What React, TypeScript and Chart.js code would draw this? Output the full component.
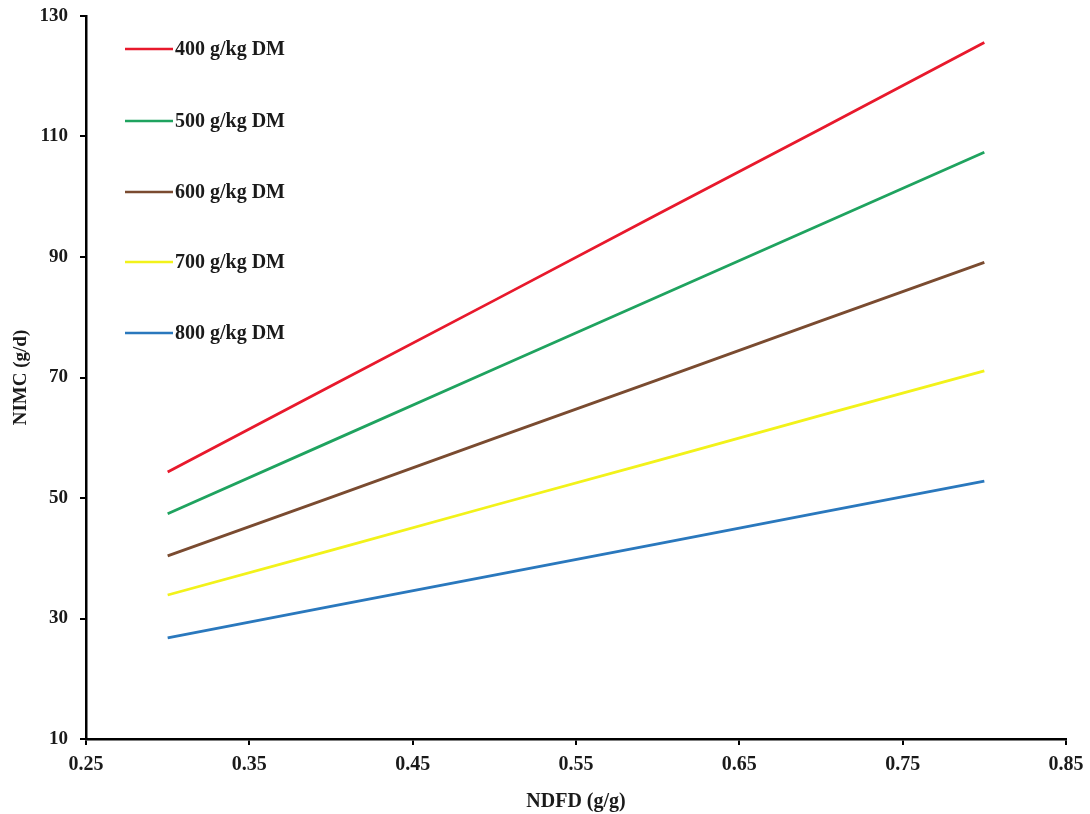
import React, { useEffect, useRef } from "react";
import { Chart, registerables } from "chart.js";

Chart.register(...registerables);

const xValues = [0.3, 0.4, 0.5, 0.6, 0.7, 0.8];
const s400 = [54.3, 68.6, 82.8, 97.1, 111.3, 125.6];
const s500 = [47.4, 59.4, 71.4, 83.4, 95.4, 107.4];
const s600 = [40.4, 50.1, 59.9, 69.6, 79.4, 89.1];
const s700 = [33.9, 41.3, 48.8, 56.2, 63.7, 71.1];
const s800 = [26.8, 32.0, 37.2, 42.4, 47.6, 52.8];
const seriesLabels = ["400 g/kg DM", "500 g/kg DM", "600 g/kg DM", "700 g/kg DM", "800 g/kg DM"];
const seriesColors = ["#e8192c", "#1fa35f", "#7a4b30", "#f2f21a", "#2a78bd"];
const xTicks = [0.25, 0.35, 0.45, 0.55, 0.65, 0.75, 0.85];
const yTicks = [10, 30, 50, 70, 90, 110, 130];

const FONT = "'Liberation Serif', 'Times New Roman', serif";

const legendPlugin = {
  id: "customLegend",
  afterDraw(chart: any) {
    const ctx = chart.ctx;
    const rows = [49, 121, 192, 262, 333];
    ctx.save();
    chart.data.datasets.forEach((ds: any, i: number) => {
      const y = rows[i];
      ctx.strokeStyle = ds.borderColor;
      ctx.lineWidth = 2.5;
      ctx.beginPath();
      ctx.moveTo(125, y);
      ctx.lineTo(173, y);
      ctx.stroke();
      ctx.fillStyle = "#1a1a1a";
      ctx.font = `bold 20px ${FONT}`;
      ctx.textAlign = "left";
      ctx.textBaseline = "middle";
      ctx.fillText(ds.label, 175, y + 1);
    });
    ctx.restore();
  },
};

export default function App() {
  const ref = useRef<HTMLCanvasElement | null>(null);
  useEffect(() => {
    if (!ref.current) return;
    const all = [s400, s500, s600, s700, s800];
    const chart = new Chart(ref.current, {
      type: "line",
      data: {
        datasets: all.map((s, i) => ({
          label: seriesLabels[i],
          data: s.map((v, j) => ({ x: xValues[j], y: v })),
          borderColor: seriesColors[i],
          backgroundColor: seriesColors[i],
          borderWidth: 2.8,
          pointRadius: 0,
          tension: 0,
          fill: false,
        })),
      },
      options: {
        animation: false,
        responsive: true,
        maintainAspectRatio: false,
        layout: { padding: { top: 16, right: 24, left: 0, bottom: 0 } },
        plugins: { legend: { display: false }, tooltip: { enabled: false } },
        scales: {
          x: {
            type: "linear",
            min: 0.25,
            max: 0.85,
            afterBuildTicks: (scale: any) => {
              scale.ticks = xTicks.map((v) => ({ value: v }));
            },
            afterFit: (scale: any) => {
              scale.height = 75;
              scale.paddingLeft = 0;
              scale.paddingRight = 0;
            },
            grid: {
              display: true,
              drawOnChartArea: false,
              drawTicks: true,
              tickLength: 6,
              color: "#000",
              lineWidth: 2,
            },
            border: { display: true, color: "#000", width: 2.5 },
            ticks: {
              color: "#1a1a1a",
              padding: 8,
              maxRotation: 0,
              font: { family: FONT, size: 20, weight: "bold" },
              callback: (v: any) => Number(v).toFixed(2),
            },
            title: {
              display: true,
              text: "NDFD (g/g)",
              color: "#1a1a1a",
              font: { family: FONT, size: 20, weight: "bold" },
              padding: { top: 0, bottom: 0 },
            },
          },
          y: {
            type: "linear",
            min: 10,
            max: 130,
            afterBuildTicks: (scale: any) => {
              scale.ticks = yTicks.map((v) => ({ value: v }));
            },
            afterFit: (scale: any) => {
              scale.width = 86;
              scale.paddingTop = 0;
              scale.paddingBottom = 0;
            },
            grid: {
              display: true,
              drawOnChartArea: false,
              drawTicks: true,
              tickLength: 6,
              color: "#000",
              lineWidth: 2,
            },
            border: { display: true, color: "#000", width: 2.5 },
            ticks: {
              color: "#1a1a1a",
              padding: 12,
              font: { family: FONT, size: 19, weight: "bold" },
              callback: (v: any) => String(v),
            },
            title: {
              display: true,
              text: "NIMC (g/d)",
              color: "#1a1a1a",
              font: { family: FONT, size: 19, weight: "bold" },
              padding: { top: 10, bottom: 0 },
            },
          },
        },
      },
      plugins: [legendPlugin],
    } as any);
    return () => chart.destroy();
  }, []);
  return (
    <div style={{ position: "fixed", left: 0, top: 0, width: 1090, height: 814, background: "#fff" }}>
      <canvas ref={ref} />
    </div>
  );
}
